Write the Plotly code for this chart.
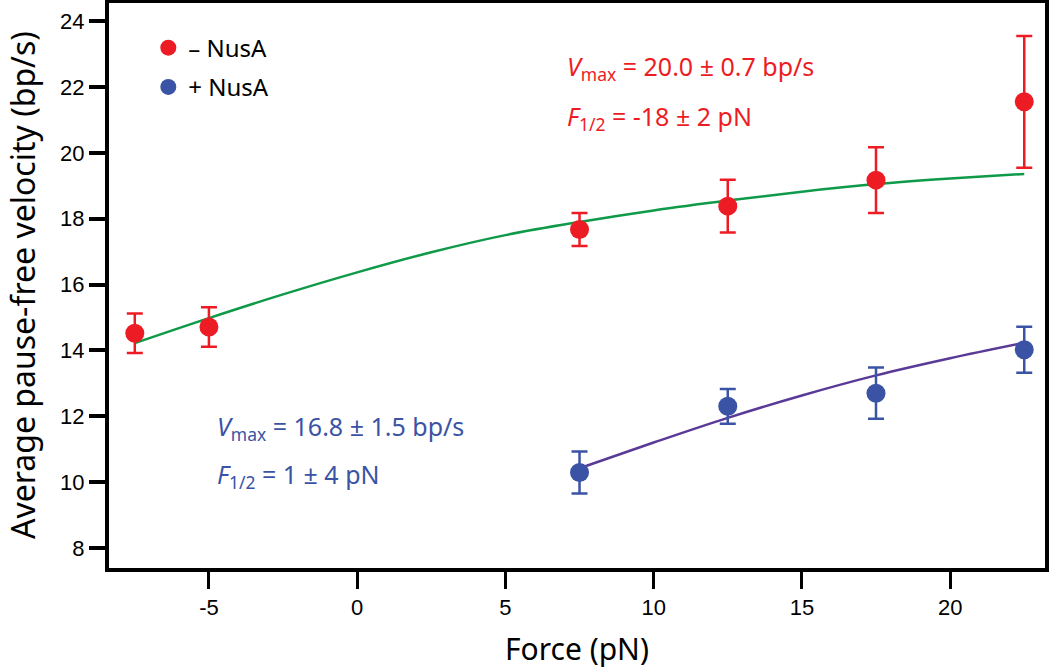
import plotly.graph_objects as go

# ---- data ----
force_minus = [-7.5, -5, 7.5, 12.5, 17.5, 22.5]
vel_minus = [14.52, 14.71, 17.67, 18.38, 19.17, 21.55]
err_minus = [0.6, 0.6, 0.5, 0.8, 1.0, 2.0]

force_plus = [7.5, 12.5, 17.5, 22.5]
vel_plus = [10.29, 12.3, 12.7, 14.02]
err_plus = [0.64, 0.53, 0.78, 0.7]

fit_minus_x = [-7.5, -5, -2.5, 0, 2.5, 5, 7.5, 10, 12.5, 15, 17.5, 20, 22.5]
fit_minus_y = [14.22, 14.98, 15.7, 16.37, 16.98, 17.5, 17.9, 18.25, 18.55, 18.82, 19.05, 19.22, 19.36]

fit_plus_x = [7.5, 10, 12.5, 15, 17.5, 20, 22.5]
fit_plus_y = [10.42, 11.2, 11.95, 12.63, 13.24, 13.76, 14.23]

x_ticks = [-5, 0, 5, 10, 15, 20]
y_ticks = [8, 10, 12, 14, 16, 18, 20, 22, 24]

RED = "#ED1C24"
BLUE = "#3A53A4"
GREEN = "#0E9A48"
PURPLE = "#5A3A97"
TXT = "Noto Sans"
NUM = "Liberation Sans, Arial"

fig = go.Figure()
fig.add_trace(go.Scatter(x=fit_minus_x, y=fit_minus_y, mode="lines",
                         line=dict(color=GREEN, width=2.5, shape="spline"), showlegend=False))
fig.add_trace(go.Scatter(x=fit_plus_x, y=fit_plus_y, mode="lines",
                         line=dict(color=PURPLE, width=2.5, shape="spline"), showlegend=False))
fig.add_trace(go.Scatter(x=force_minus, y=vel_minus, mode="markers", name="– NusA",
                         legendgroup="a",
                         marker=dict(color=RED, size=19),
                         error_y=dict(type="data", array=err_minus, color=RED, thickness=2.5, width=8)))
fig.add_trace(go.Scatter(x=force_plus, y=vel_plus, mode="markers", name="+ NusA",
                         legendgroup="b",
                         marker=dict(color=BLUE, size=19),
                         error_y=dict(type="data", array=err_plus, color=BLUE, thickness=2.5, width=8)))

L, T, W, H = 109, 3, 936, 565
ann = [
    dict(x=565, y=68, text="<i>V</i><sub>max</sub> = 20.0 ± 0.7 bp/s", color=RED),
    dict(x=565, y=118, text="<i>F</i><sub>1/2</sub> = -18 ± 2 pN", color=RED),
    dict(x=215, y=428, text="<i>V</i><sub>max</sub> = 16.8 ± 1.5 bp/s", color=BLUE),
    dict(x=215, y=476, text="<i>F</i><sub>1/2</sub> = 1 ± 4 pN", color=BLUE),
]
for a in ann:
    fig.add_annotation(x=(a["x"] - L) / W, y=1 - (a["y"] - T) / H, xref="paper", yref="paper",
                       xanchor="left", yanchor="middle", showarrow=False, text=a["text"],
                       font=dict(family=TXT, size=25, color=a["color"]))

# axis titles
fig.add_annotation(x=0.5, y=1 - (648 - T) / H, xref="paper", yref="paper", showarrow=False,
                   xanchor="center", yanchor="middle", text="Force (pN)",
                   font=dict(family=TXT, size=30, color="black"))
fig.add_annotation(x=(22 - L) / W, y=1 - (285 - T) / H, xref="paper", yref="paper", showarrow=False,
                   xanchor="center", yanchor="middle", textangle=-90,
                   text="Average pause-free velocity (bp/s)",
                   font=dict(family=TXT, size=32, color="black"))

fig.update_layout(
    width=1050, height=669,
    margin=dict(l=L, r=1050 - L - W, t=T, b=669 - T - H, autoexpand=False),
    paper_bgcolor="white", plot_bgcolor="white",
    legend=dict(x=0.042, y=0.96, xanchor="left", yanchor="top",
                font=dict(family=TXT, size=24, color="black"),
                tracegroupgap=5, bgcolor="rgba(0,0,0,0)"),
    xaxis=dict(range=[-8.37, 23.2], tickvals=x_ticks, ticktext=[str(v) for v in x_ticks],
               automargin=False,
               showgrid=False, zeroline=False, showline=True, linewidth=4, linecolor="black",
               mirror=True, ticks="outside", ticklen=17, tickwidth=3, tickcolor="black",
               tickfont=dict(family=NUM, size=22, color="black")),
    yaxis=dict(range=[7.39, 24.55], tickvals=y_ticks, ticktext=[str(v) for v in y_ticks],
               automargin=False,
               showgrid=False, zeroline=False, showline=True, linewidth=4, linecolor="black",
               mirror=True, ticks="outside", ticklen=16, tickwidth=4, tickcolor="black",
               tickfont=dict(family=NUM, size=22, color="black")),
)

fig.write_html("out.html", config={"displayModeBar": False},
               post_script="document.body.style.margin='0px';")
